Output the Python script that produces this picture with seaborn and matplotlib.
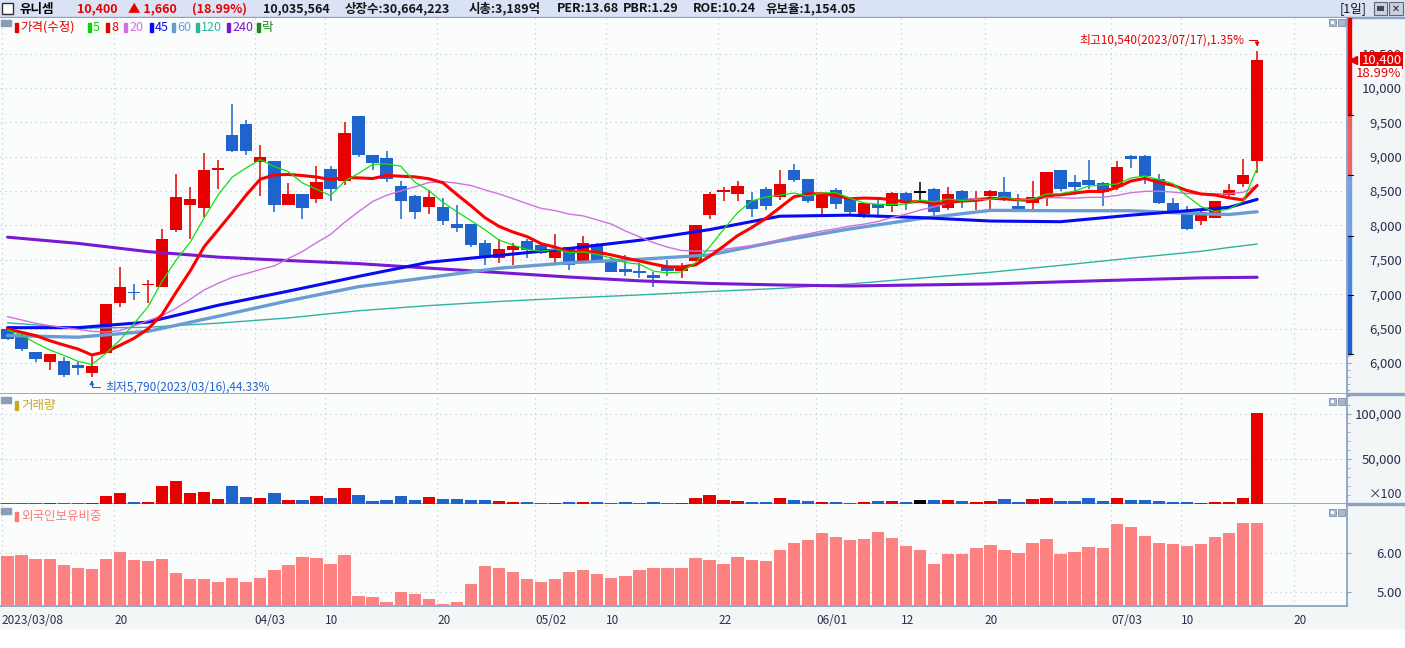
import numpy as np
import pandas as pd
import matplotlib
matplotlib.use("Agg")
import matplotlib.pyplot as plt
import matplotlib.transforms as mtransforms
from matplotlib.patches import Rectangle
from matplotlib.ticker import FuncFormatter, MultipleLocator
import seaborn as sns

sns.set_style("white")
plt.rcParams["font.family"] = ["Noto Sans CJK KR", "DejaVu Sans"]

# 거래일 2023/03/08 ~ 2023/07/17 (휴장일 제외)
holidays = ["2023-05-01", "2023-05-05", "2023-05-29", "2023-06-06"]
days = pd.bdate_range("2023-03-08", "2023-07-17")
days = days[~days.isin(pd.to_datetime(holidays))]

opens = [6500, 6380, 6160, 6020, 6030, 5970, 5860, 6140, 6870, 7030,
         7140, 7100, 7940, 8300, 8260, 8820, 9310, 9470, 8930, 8940,
         8300, 8460, 8380, 8820, 8640, 9590, 9020, 8980, 8570, 8430,
         8270, 8270, 8020, 8020, 7740, 7520, 7650, 7770, 7720, 7520,
         7690, 7490, 7730, 7500, 7370, 7340, 7280, 7400, 7340, 7490,
         8150, 8490, 8460, 8370, 8530, 8410, 8800, 8680, 8260, 8510,
         8380, 8160, 8310, 8290, 8470, 8490, 8530, 8260, 8500, 8350,
         8430, 8490, 8290, 8320, 8420, 8800, 8630, 8660, 8620, 8560,
         9010, 9010, 8680, 8320, 8190, 8060, 8110, 8440, 8610, 8940]
highs = [6520, 6430, 6160, 6130, 6090, 6020, 6120, 6860, 7400, 7150,
         7200, 7950, 8750, 8560, 9060, 8950, 9770, 9530, 9170, 8940,
         8620, 8460, 8870, 8860, 9500, 9590, 9020, 9080, 8650, 8440,
         8520, 8400, 8300, 8020, 7790, 7810, 7740, 7800, 7750, 7880,
         7690, 7850, 7740, 7540, 7570, 7450, 7330, 7500, 7450, 8010,
         8480, 8560, 8640, 8490, 8560, 8810, 8890, 8680, 8480, 8550,
         8380, 8330, 8390, 8490, 8490, 8630, 8550, 8560, 8520, 8500,
         8520, 8710, 8460, 8650, 8780, 8810, 8740, 8950, 8630, 8940,
         9020, 9030, 8750, 8400, 8280, 8230, 8360, 8600, 8970, 10540]
lows = [6340, 6180, 6010, 5900, 5800, 5830, 5790, 6140, 6810, 6910,
        6870, 7100, 7910, 7800, 8120, 8530, 9070, 9020, 8430, 8190,
        8300, 8100, 8320, 8360, 8590, 9000, 8800, 8630, 8100, 8100,
        8170, 8000, 7910, 7680, 7430, 7460, 7420, 7530, 7590, 7430,
        7350, 7460, 7460, 7320, 7260, 7230, 7110, 7270, 7240, 7480,
        8100, 8350, 8350, 8130, 8220, 8370, 8630, 8330, 8140, 8240,
        8160, 8110, 8110, 8190, 8230, 8350, 8120, 8220, 8260, 8220,
        8220, 8350, 8210, 8230, 8290, 8500, 8440, 8530, 8290, 8520,
        8830, 8610, 8310, 8180, 7930, 8000, 8110, 8380, 8560, 8770]
closes = [6350, 6200, 6060, 6130, 5820, 5920, 5960, 6860, 7100, 7020,
          7150, 7800, 8410, 8390, 8800, 8830, 9090, 9080, 8990, 8300,
          8460, 8260, 8630, 8530, 9340, 9030, 8910, 8670, 8360, 8190,
          8410, 8070, 7970, 7720, 7520, 7660, 7700, 7650, 7600, 7660,
          7420, 7750, 7470, 7330, 7330, 7310, 7240, 7340, 7400, 8000,
          8460, 8510, 8570, 8240, 8290, 8600, 8660, 8350, 8470, 8310,
          8190, 8320, 8250, 8470, 8320, 8490, 8190, 8460, 8350, 8400,
          8500, 8380, 8220, 8410, 8780, 8530, 8560, 8590, 8480, 8850,
          8970, 8720, 8320, 8190, 7950, 8190, 8360, 8510, 8740, 10400]

# 거래량 (x100)
volume = [900, 800, 800, 900, 800, 800, 900, 8500, 11800, 1900,
          1900, 19600, 25500, 11800, 12900, 5200, 19600, 7400, 6300, 11800,
          4100, 4100, 8500, 6300, 17400, 9600, 3000, 4100, 8500, 4100,
          7400, 5200, 5200, 4100, 4100, 3000, 1900, 1900, 900, 900,
          1900, 1900, 1900, 900, 1900, 900, 1900, 900, 900, 6300,
          9600, 4100, 3000, 1900, 1900, 6300, 4100, 3000, 1900, 1900,
          900, 1900, 3000, 3000, 1900, 4100, 4100, 4100, 3000, 1900,
          3000, 5200, 1900, 5200, 6300, 3000, 3000, 6300, 3000, 6300,
          4100, 4100, 3000, 1900, 1900, 900, 1900, 1900, 6300, 100356]

# 외국인보유비중 (%)
foreign = [5.93, 5.96, 5.85, 5.85, 5.70, 5.62, 5.60, 5.85, 6.03, 5.83,
           5.80, 5.85, 5.49, 5.34, 5.34, 5.26, 5.36, 5.26, 5.36, 5.57,
           5.70, 5.91, 5.88, 5.72, 5.96, 4.90, 4.87, 4.74, 5.00, 4.95,
           4.82, 4.69, 4.74, 5.21, 5.67, 5.62, 5.52, 5.34, 5.26, 5.34,
           5.52, 5.57, 5.47, 5.36, 5.41, 5.57, 5.62, 5.62, 5.62, 5.88,
           5.83, 5.72, 5.91, 5.83, 5.80, 6.09, 6.27, 6.34, 6.53, 6.42,
           6.34, 6.37, 6.55, 6.40, 6.19, 6.09, 5.72, 5.98, 5.98, 6.14,
           6.22, 6.09, 6.01, 6.27, 6.37, 5.98, 6.03, 6.16, 6.14, 6.76,
           6.68, 6.45, 6.27, 6.24, 6.19, 6.24, 6.42, 6.53, 6.78, 6.78]

# 이평선 시작 구간 (이전 데이터 없음 -> 차트에서 읽은 값)
ma5_head = [6480, 6410, 6290, 6190]
ma8_head = [6495, 6446, 6398, 6325, 6262, 6204, 6117]
ma20_head = [6674, 6626, 6577, 6543, 6514, 6490, 6461, 6451, 6471, 6539,
             6616, 6689, 6795, 6926, 7062, 7159, 7246, 7300, 7360]

# 장기 이평선
long_idx = [0, 5, 10, 15, 20, 25, 30, 35, 40, 45, 50, 55, 60, 65, 70, 75, 80, 85, 87, 89]
ma45 = [6514, 6514, 6595, 6840, 7045, 7260, 7465, 7565, 7665, 7785,
        7940, 8135, 8150, 8115, 8065, 8055, 8150, 8230, 8264, 8380]
ma60 = [6400, 6375, 6460, 6680, 6905, 7110, 7245, 7378, 7457, 7508,
        7571, 7776, 7950, 8100, 8220, 8215, 8215, 8170, 8160, 8200]
ma120 = [6585, 6505, 6520, 6580, 6655, 6760, 6835, 6895, 6945, 6990,
         7040, 7085, 7150, 7235, 7320, 7420, 7525, 7625, 7680, 7730]
ma240 = [7830, 7740, 7620, 7540, 7490, 7445, 7380, 7315, 7250, 7195,
         7157, 7135, 7120, 7135, 7150, 7180, 7210, 7238, 7243, 7247]

tick_idx = [0, 8, 18, 23, 31, 38, 43, 51, 58, 64, 70, 79, 84, 92]
tick_labels = ["2023/03/08", "20", "04/03", "10", "20", "05/02", "10",
               "22", "06/01", "12", "20", "07/03", "10", "20"]

band_edges = [6130, 6990, 7850, 8730, 9600, 11020]
band_colors = ["#1f5fd0", "#4a86e0", "#74a2e0", "#e66666", "#e60000"]

header_stats = ["10,035,564", "상장수:30,664,223", "시총:3,189억",
                "PER:13.68", "PBR:1.29", "ROE:10.24", "유보율:1,154.05"]

RED = "#e60000"
BLUE = "#1e64cc"
DARK = "#283050"
EDGE = "#8ea2c4"
GRID = "#c5ccd6"

W, H = 1405, 648
PR = 1347
fig = plt.figure(figsize=(W / 100, H / 100), dpi=100)
fig.patch.set_facecolor("white")


def fx(px):
    return px / W


def fy(py):
    return 1 - py / H


def rect_px(x0, y0, x1, y1, **kw):
    r = Rectangle((fx(x0), fy(y1)), fx(x1) - fx(x0), fy(y0) - fy(y1),
                  transform=fig.transFigure, **kw)
    fig.patches.append(r)


# backgrounds
rect_px(0, 0, W, 17, color="#d9e3f5", zorder=-5)
rect_px(0, 17, W, 18, color=EDGE, zorder=-4)
rect_px(PR, 18, W, 628, color="#f2f6f6", zorder=-5)
rect_px(0, 606, PR, 628, color="#f2f6f6", zorder=-5)
rect_px(PR, 393.5, W, 395, color=EDGE, zorder=-4)
rect_px(PR, 503.5, W, 505, color=EDGE, zorder=-4)

ax_p = fig.add_axes([0, fy(394), fx(PR), (394 - 18) / H])
ax_v = fig.add_axes([0, fy(504), fx(PR), (504 - 394) / H], sharex=ax_p)
ax_f = fig.add_axes([0, fy(606), fx(PR), (606 - 504) / H], sharex=ax_p)

idx = np.arange(len(closes))
o, h, l, c = (np.array(a, dtype=float) for a in (opens, highs, lows, closes))
colors = np.where(c > o, RED, np.where(c < o, BLUE, "black"))

for ax in (ax_p, ax_v, ax_f):
    ax.set_facecolor("#fbfdfd")
    for s in ("top", "left"):
        ax.spines[s].set_visible(False)
    for s in ("right", "bottom"):
        ax.spines[s].set_color(EDGE)
        ax.spines[s].set_linewidth(1.3)
    ax.yaxis.tick_right()
    ax.grid(True, linestyle=(0, (1, 3)), color=GRID, linewidth=0.9)
    ax.tick_params(axis="y", length=3, color=EDGE, labelsize=9.5,
                   labelcolor=DARK, pad=36.5)
    ax.tick_params(axis="y", which="minor", length=2, color=EDGE)
    ax.set_axisbelow(True)

# candles
body_h = np.maximum(np.abs(c - o), 22)
body_b = (o + c) / 2 - body_h / 2
ax_p.vlines(idx, l, h, colors=colors, linewidth=1.1, zorder=3)
ax_p.bar(idx, body_h, bottom=body_b, width=0.88, color=colors, linewidth=0, zorder=4)

# moving averages
close_s = pd.Series(c)
ma5 = close_s.rolling(5).mean().to_numpy()
ma5[:len(ma5_head)] = ma5_head
ma8 = close_s.rolling(8).mean().to_numpy()
ma8[:len(ma8_head)] = ma8_head
ma20 = close_s.rolling(20).mean().to_numpy()
ma20[:len(ma20_head)] = ma20_head

sns.lineplot(x=long_idx, y=ma120, ax=ax_p, color="#2eb4a0", linewidth=1.0, zorder=5)
sns.lineplot(x=long_idx, y=ma240, ax=ax_p, color="#7a18d4", linewidth=2.2, zorder=5)
sns.lineplot(x=long_idx, y=ma60, ax=ax_p, color="#6a9cd4", linewidth=2.4, zorder=5)
sns.lineplot(x=long_idx, y=ma45, ax=ax_p, color="#0a0af0", linewidth=2.2, zorder=5)
sns.lineplot(x=idx, y=ma20, ax=ax_p, color="#d070e0", linewidth=1.0, zorder=5)
sns.lineplot(x=idx, y=ma8, ax=ax_p, color="#ff0000", linewidth=2.2, zorder=6)
sns.lineplot(x=idx, y=ma5, ax=ax_p, color="#10e010", linewidth=0.9, zorder=6)

ax_p.set_xlim(-0.54, 95.4)
ax_p.set_ylim(5549, 11018)
ax_p.set_yticks(np.arange(6000, 10501, 500))
ax_p.yaxis.set_minor_locator(MultipleLocator(100))
ax_p.yaxis.set_major_formatter(FuncFormatter(lambda v, p: f"{v:,.0f}"))

# price band on the axis
blend = mtransforms.blended_transform_factory(ax_p.transAxes, ax_p.transData)
for lo_, hi_, col in zip(band_edges[:-1], band_edges[1:], band_colors):
    ax_p.add_patch(Rectangle((1.0008, lo_), 0.0022, hi_ - lo_, transform=blend,
                             color=col, clip_on=False, zorder=6))
for e in band_edges[:-1]:
    ax_p.plot([1.0008, 1.0045], [e, e], color="black", lw=0.8,
              transform=blend, clip_on=False, zorder=7)

# last price box
last, prev = c[-1], c[-2]
chg = last - prev
pct = chg / prev * 100
ax_p.text(1.0405, last, f"{last:,.0f}", transform=blend, ha="right", va="center",
          color="white", fontsize=9.5, clip_on=False, zorder=8,
          bbox=dict(boxstyle="square,pad=0.12", fc=RED, ec="none"))
ax_p.plot([1.0045], [last], marker="<", ms=5.5, color=RED, transform=blend,
          clip_on=False, zorder=8)
ax_p.text(1.0405, last - 185, f"{pct:.2f}%", transform=blend, ha="right", va="center",
          color=RED, fontsize=9.5, clip_on=False, zorder=8,
          bbox=dict(boxstyle="square,pad=0.05", fc="white", ec="none"))

# high / low annotations
hi_i, lo_i = int(np.argmax(h)), int(np.argmin(l))
hi_v, lo_v = h[hi_i], l[lo_i]
ax_p.annotate(f"최고{hi_v:,.0f}({days[hi_i]:%Y/%m/%d}),{(hi_v - last) / last * 100:.2f}%",
              xy=(hi_i, hi_v), xytext=(-9, 7.5), textcoords="offset points",
              ha="right", va="center", color=RED, fontsize=8.5, zorder=9,
              arrowprops=dict(arrowstyle="-|>", color=RED, lw=0.8, mutation_scale=6,
                              connectionstyle="angle,angleA=0,angleB=90,rad=0",
                              shrinkA=1, shrinkB=3))
ax_p.annotate(f"최저{lo_v:,.0f}({days[lo_i]:%Y/%m/%d}),{(last - lo_v) / last * 100:.2f}%",
              xy=(lo_i, lo_v), xytext=(9.5, -7), textcoords="offset points",
              ha="left", va="center", color=BLUE, fontsize=8.5, zorder=9,
              arrowprops=dict(arrowstyle="-|>", color=BLUE, lw=0.8, mutation_scale=6,
                              connectionstyle="angle,angleA=0,angleB=90,rad=0",
                              shrinkA=1, shrinkB=2))

# volume
ax_v.bar(idx, volume, width=0.88, color=colors, linewidth=0, zorder=3)
ax_v.set_ylim(-330, 121900)
ax_v.set_yticks([50000, 100000])
ax_v.yaxis.set_minor_locator(MultipleLocator(10000))
ax_v.yaxis.set_major_formatter(FuncFormatter(lambda v, p: f"{v:,.0f}"))

# foreign ownership
ax_f.bar(idx, foreign, width=0.88, color="#ff8282", linewidth=0, zorder=3)
ax_f.set_ylim(4.638, 7.274)
ax_f.set_yticks([5, 6])
ax_f.yaxis.set_major_formatter(FuncFormatter(lambda v, p: f"{v:.2f}"))

for ax in (ax_p, ax_v, ax_f):
    for lab in ax.get_yticklabels():
        lab.set_horizontalalignment("right")

ax_f.set_xticks(np.array(tick_idx) - 0.4)
ax_f.set_xticklabels(tick_labels, ha="left")
ax_f.tick_params(axis="x", length=5, color=EDGE, labelsize=8.5, labelcolor=DARK, pad=1)
for ax in (ax_p, ax_v):
    ax.tick_params(axis="x", length=0, labelbottom=False)

# header
HF = 9
rect_px(2, 3, 13, 14, facecolor="white", edgecolor="#303030", linewidth=1, zorder=2)
fig.text(fx(20), fy(9), "유니셈", fontsize=HF, fontweight="bold", color="black", va="center")
fig.text(fx(77), fy(9), f"{last:,.0f}", fontsize=HF, fontweight="bold", color=RED, va="center")
fig.text(fx(128), fy(9), f"▲ {chg:,.0f}", fontsize=HF, fontweight="bold", color=RED, va="center")
fig.text(fx(192), fy(9), f"({pct:.2f}%)", fontsize=HF, fontweight="bold", color=RED, va="center")
for s, x in zip(header_stats, [263, 345, 469, 557, 623, 693, 765]):
    fig.text(fx(x), fy(9), s, fontsize=HF, fontweight="bold", color="#151515", va="center")
fig.text(fx(1340), fy(9), "[1일]", fontsize=9, color="#151515", va="center")
rect_px(1374, 2, 1387, 15, facecolor="#c8d0dc", edgecolor="#606878", linewidth=0.8, zorder=2)
rect_px(1377, 6, 1384, 11, facecolor="#404858", edgecolor="none", zorder=3)
rect_px(1389, 2, 1403, 15, facecolor="#c8d0dc", edgecolor="#606878", linewidth=0.8, zorder=2)
fig.text(fx(1396), fy(8.5), "✕", fontsize=7, color="#202020", ha="center", va="center",
         family=["DejaVu Sans"])

# panel titles
legend_items = [("가격(수정)", RED), ("5", "#10d010"), ("8", RED), ("20", "#d070e0"),
                ("45", "#0a0af0"), ("60", "#6a9cd4"), ("120", "#2eb4a0"),
                ("240", "#7a18d4"), ("락", "#1a8a1a")]
legend_x = [15, 88, 106, 124, 150, 172, 196, 227, 257]
for (lab, col), x in zip(legend_items, legend_x):
    rect_px(x, 23, x + 3, 32, color=col, zorder=3)
    fig.text(fx(x + 5), fy(27.5), lab, fontsize=9, color=col, va="center")

for y0, lab, col in [(20, None, None), (397, "거래량", "#c8a820"), (508, "외국인보유비중", "#ff7878")]:
    rect_px(1, y0, 11, y0 + 6, color="#8a9cb8", zorder=3)
    if lab:
        rect_px(15, y0 + 4, 18, y0 + 13, color=col, zorder=3)
        fig.text(fx(21), fy(y0 + 8.5), lab, fontsize=9, color=col, va="center")

for y0 in (19, 398, 509):
    rect_px(1329, y0, 1336, y0 + 7, facecolor="#aab8cc", edgecolor="#8090a8", lw=0.6, zorder=3)
    rect_px(1331, y0 + 2, 1334, y0 + 5, facecolor="white", edgecolor="none", zorder=4)
    rect_px(1338, y0, 1345, y0 + 7, facecolor="#aab8cc", edgecolor="#8090a8", lw=0.6, zorder=3)

fig.text(fx(1402), fy(495), "×100", fontsize=9, color=DARK, ha="right", va="center")

fig.savefig("out.png", dpi=100)
